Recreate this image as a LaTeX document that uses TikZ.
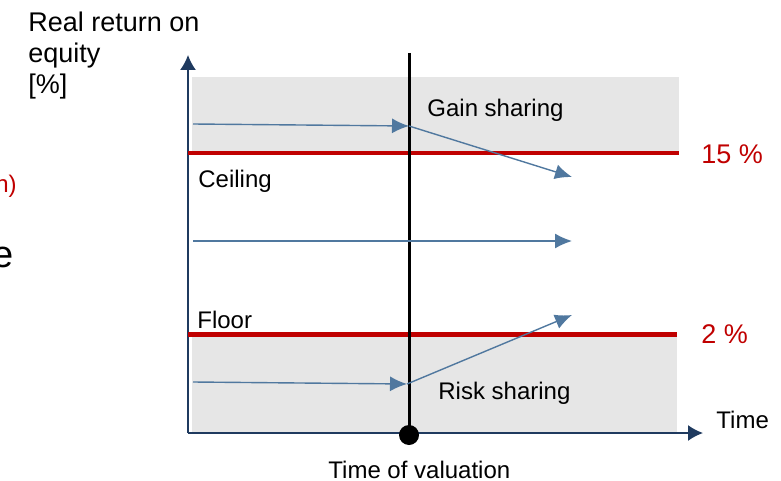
\documentclass[tikz,border=0pt]{standalone}
\usepackage{fontspec}
\setmainfont{Liberation Sans}
\usetikzlibrary{arrows.meta}
\definecolor{limred}{HTML}{C00000}
\definecolor{bandgray}{HTML}{E6E6E6}
\definecolor{pathblue}{HTML}{50789F}
\definecolor{axisblue}{HTML}{1F3A5F}
\begin{document}
\begin{tikzpicture}[x=0.5pt,y=-0.5pt,
    axis/.style={axisblue,line width=0.8pt,-{Latex[length=7.5pt,width=8pt]}},
    limit/.style={limred,line width=2.2pt},
    flow/.style={pathblue,line width=0.7pt,-{Latex[length=8.5pt,width=7.5pt]}},
    lbl/.style={inner sep=0pt,font=\fontsize{12}{14}\selectfont}]
    \useasboundingbox (0,0) rectangle (781,481);
    % grey zones above the ceiling and below the floor
    \fill [bandgray] (192,77) rectangle (679,151);
    \fill [bandgray] (192,336) rectangle (677,432);
    % axes
    \coordinate (o) at (188,433);
    \coordinate (ytop) at (188,55);
    \coordinate (xend) at (703,433);
    \draw [axis] (o) -- (ytop);
    \draw [axis] (o) -- (xend);
    % limits
    \coordinate (c0) at (188,153);
    \coordinate (c1) at (679,153);
    \coordinate (f0) at (188,334.5);
    \coordinate (f1) at (677,334.5);
    \draw [limit] (c0) -- (c1);
    \draw [limit] (f0) -- (f1);
    % time of valuation
    \coordinate (vtop) at (409,53);
    \node [circle,fill,inner sep=0pt,minimum size=10pt] (val) at (409,435) {};
    \draw [line width=1.5pt] (vtop) -- (val.center);
    % return paths
    \coordinate (g0) at (193,124);
    \coordinate (g1) at (409,126);
    \coordinate (g2) at (572,177);
    \coordinate (m0) at (193,241);
    \coordinate (m1) at (572,241);
    \coordinate (r0) at (193,382);
    \coordinate (r1) at (407,384);
    \coordinate (r2) at (572,315);
    \draw [flow] (g0) -- (g1);
    \draw [flow] (g1) -- (g2);
    \draw [flow] (m0) -- (m1);
    \draw [flow] (r0) -- (r1);
    \draw [flow] (r1) -- (r2);
    % labels
    \node [lbl,anchor=north west,align=left,font=\fontsize{13.5}{15.5}\selectfont] (ylab) at (28,12) {Real return on\\equity\\{[\%]}};
    \node [lbl,anchor=base west] (gain) at (427,117) {Gain sharing};
    \node [lbl,anchor=base west] (risk) at (438,399) {Risk sharing};
    \node [lbl,anchor=base west] (ceil) at (198,187) {Ceiling};
    \node [lbl,anchor=base west] (floor) at (197,328) {Floor};
    \node [lbl,anchor=base west] (tval) at (328,478) {Time of valuation};
    \node [lbl,anchor=base west] (time) at (716,428) {Time};
    \node [lbl,anchor=base west,limred,font=\fontsize{13.5}{16}\selectfont] (cval) at (701,163) {15 \%};
    \node [lbl,anchor=base west,limred,font=\fontsize{13.5}{16}\selectfont] (fval) at (701,343) {2 \%};
    \node [lbl,anchor=base east,limred] (cutn) at (17,192) {n)};
    \node [lbl,anchor=base east,font=\fontsize{19}{22}\selectfont] (cute) at (14,267) {e};
\end{tikzpicture}
\end{document}
